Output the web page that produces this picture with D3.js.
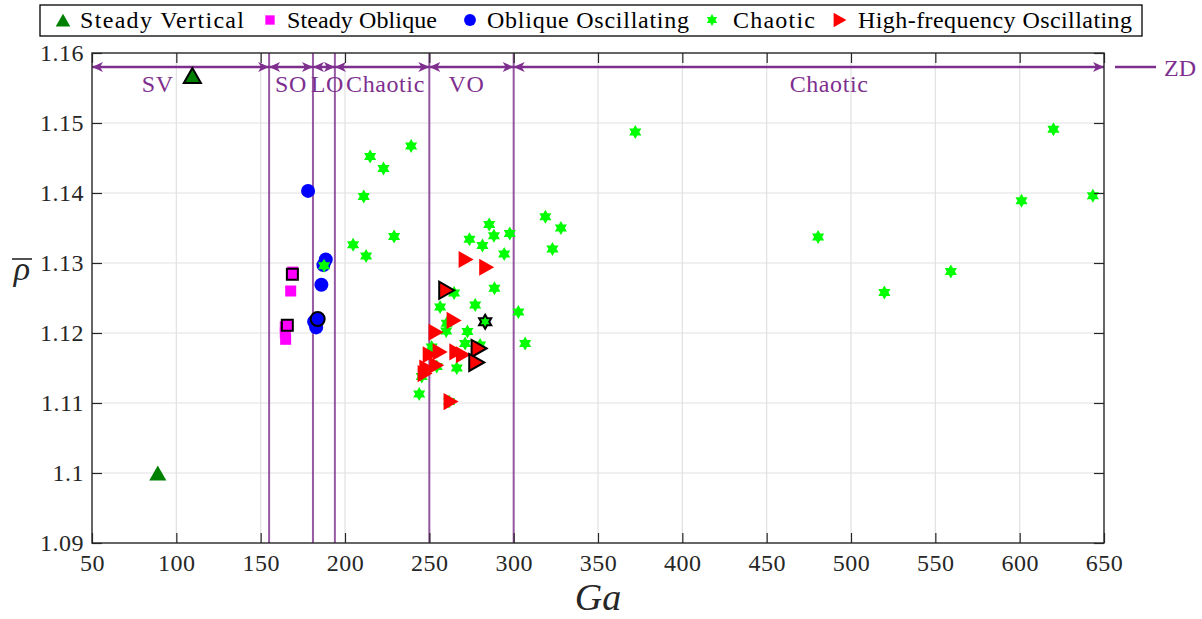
<!DOCTYPE html>
<html>
<head>
<meta charset="utf-8">
<script src="https://d3js.org/d3.v7.min.js"></script>
<style>
  body { margin: 0; background: #fff; font-family: 'Liberation Serif'; }
  svg, svg text { font-family: 'Liberation Serif' !important; }
</style>
</head>
<body>
<script>
// data: [Ga, rho, blackEdge]
var steadyVertical = [[89, 1.1000, 0], [109.5, 1.1568, 1]];
var steadyOblique = [[169, 1.1287, 0], [167.8, 1.1260, 0], [164.6, 1.1209, 0], [164.6, 1.1200, 0],
                     [164.8, 1.1191, 0], [168.8, 1.1284, 1], [165.8, 1.1211, 1]];
var obliqueOsc = [[178.1, 1.1403, 0], [188.6, 1.1305, 0], [187.2, 1.1297, 0], [186, 1.1269, 0],
                  [181.7, 1.1216, 0], [182.9, 1.1208, 0], [183.8, 1.1220, 1]];
var chaotic = [[239.2, 1.1467, 0], [214.9, 1.1452, 0], [222.8, 1.1435, 0], [211.1, 1.1395, 0],
               [204.8, 1.1326, 0], [212.5, 1.1310, 0], [229.1, 1.1338, 0], [187.6, 1.1296, 0],
               [285.5, 1.1355, 0], [273.8, 1.1334, 0], [281.5, 1.1325, 0], [288.3, 1.1339, 0],
               [297.7, 1.1342, 0], [294.4, 1.1313, 0], [318.8, 1.1366, 0], [328, 1.1350, 0],
               [323, 1.1320, 0], [288.6, 1.1264, 0], [302.8, 1.1230, 0], [264.7, 1.1257, 0],
               [256.4, 1.1237, 0], [277.2, 1.1240, 0], [260, 1.1203, 0], [272.6, 1.1202, 0],
               [271.2, 1.1185, 0], [280.1, 1.1183, 0], [306.8, 1.1185, 0], [266.3, 1.1150, 0],
               [244, 1.1113, 0], [254.4, 1.1152, 0], [251.4, 1.1180, 0], [245.5, 1.1138, 0],
               [261.7, 1.1102, 0], [260.3, 1.1214, 0],
               [372.1, 1.1487, 0], [480.5, 1.1337, 0], [519.8, 1.1258, 0], [559.2, 1.1288, 0],
               [601.1, 1.1389, 0], [620, 1.1491, 0], [643.4, 1.1396, 0], [283.1, 1.1216, 1]];
var highFreq = [[271.8, 1.1305, 0], [284, 1.1294, 0], [264.7, 1.1218, 0], [254, 1.1201, 0],
                [256.4, 1.1173, 0], [250.5, 1.1169, 0], [266.3, 1.1173, 0], [270.2, 1.1169, 0],
                [254.4, 1.1154, 0], [248.5, 1.1150, 0], [247.5, 1.1142, 0], [262.9, 1.1102, 0],
                [260.3, 1.1261, 1], [279.5, 1.1178, 1], [278.1, 1.1158, 1]];

var regionBounds = [50, 155, 181, 194, 250, 300, 650];
var regionLabels = ["SV", "SO", "LO", "Chaotic", "VO", "Chaotic"];
var regionLabelGa = [89, 168, 189.5, 224, 272, 487];
var arrowRho = 1.158;

var xTicks = d3.range(50, 651, 50);
var yTicks = [1.09, 1.1, 1.11, 1.12, 1.13, 1.14, 1.15, 1.16];

var seriesNames = ["Steady Vertical", "Steady Oblique", "Oblique Oscillating", "Chaotic", "High-frequency Oscillating"];

var W = 1202, H = 619;
var L = 92, R = 1104, T = 53, B = 543;
var purple = "#7E2F8E";

var svg = d3.select("body").append("svg").attr("width", W).attr("height", H)
  .attr("font-family", "Liberation Serif");

var x = d3.scaleLinear().domain([50, 650]).range([L, R]);
var y = d3.scaleLinear().domain([1.09, 1.16]).range([B, T]);

// marker paths
function triUp(s) { return "M0," + (-s * 0.5) + "L" + (s * 0.57) + "," + (s * 0.5) + "L" + (-s * 0.57) + "," + (s * 0.5) + "Z"; }
function triRight(s) { return "M" + (s * 0.5) + ",0L" + (-s * 0.5) + "," + (-s * 0.57) + "L" + (-s * 0.5) + "," + (s * 0.57) + "Z"; }
function square(s) { var h = s / 2; return "M" + -h + "," + -h + "H" + h + "V" + h + "H" + -h + "Z"; }
function circle(s) { var r = s / 2; return "M" + r + ",0A" + r + "," + r + " 0 1,1 " + -r + ",0A" + r + "," + r + " 0 1,1 " + r + ",0Z"; }
function hexagram(s) {
  var ro = s / 2, ri = ro / Math.sqrt(3), p = [];
  for (var i = 0; i < 12; i++) {
    var a = -Math.PI / 2 + i * Math.PI / 6, r = i % 2 ? ri : ro;
    p.push([r * Math.cos(a), r * Math.sin(a)]);
  }
  return "M" + p.join("L") + "Z";
}

// gridlines
var grid = svg.append("g").attr("stroke", "#e1e1e1").attr("stroke-width", 1.2);
grid.selectAll(".gx").data(xTicks.slice(1, -1)).join("line")
  .attr("x1", d => x(d)).attr("x2", d => x(d)).attr("y1", T).attr("y2", B);
grid.selectAll(".gy").data(yTicks.slice(1, -1)).join("line")
  .attr("y1", d => y(d)).attr("y2", d => y(d)).attr("x1", L).attr("x2", R);

// regime boundaries
svg.append("g").selectAll("line").data(regionBounds.slice(1, -1)).join("line")
  .attr("x1", d => x(d)).attr("x2", d => x(d)).attr("y1", T).attr("y2", B)
  .attr("stroke", purple).attr("stroke-opacity", 0.8).attr("stroke-width", 2);

// arrow heads
var defs = svg.append("defs");
defs.append("marker").attr("id", "ah").attr("viewBox", "-12 -6 12 12")
  .attr("refX", 0).attr("refY", 0).attr("markerWidth", 12).attr("markerHeight", 12)
  .attr("markerUnits", "userSpaceOnUse").attr("orient", "auto-start-reverse")
  .append("path").attr("d", "M0,0L-11,-5L-8,0L-11,5Z").attr("fill", purple);

var segs = d3.range(regionBounds.length - 1).map(i => [regionBounds[i], regionBounds[i + 1]]);
svg.append("g").selectAll("line").data(segs).join("line")
  .attr("x1", d => x(d[0])).attr("x2", d => x(d[1]))
  .attr("y1", y(arrowRho)).attr("y2", y(arrowRho))
  .attr("stroke", purple).attr("stroke-width", 2.5)
  .attr("marker-start", "url(#ah)").attr("marker-end", "url(#ah)");

svg.append("g").selectAll("text").data(regionLabels).join("text")
  .attr("x", (d, i) => x(regionLabelGa[i])).attr("y", 92)
  .attr("text-anchor", "middle").attr("fill", purple).attr("font-size", 24)
  .attr("letter-spacing", 0.6).text(d => d);

// ZD legend outside
svg.append("line").attr("x1", 1115).attr("x2", 1156).attr("y1", y(arrowRho)).attr("y2", y(arrowRho))
  .attr("stroke", purple).attr("stroke-width", 2.5);
svg.append("text").attr("x", 1164).attr("y", 76).attr("fill", purple).attr("font-size", 24).text("ZD");

// scatter series
var series = [
  {data: steadyVertical, shape: triUp, size: 15, fill: "#008000"},
  {data: steadyOblique, shape: square, size: 11, fill: "#ff00ff"},
  {data: obliqueOsc, shape: circle, size: 14, fill: "#0000ff"},
  {data: chaotic, shape: hexagram, size: 14, fill: "#00ff00"},
  {data: highFreq, shape: triRight, size: 15, fill: "#ff0000"}
];
var pts = svg.append("g");
series.forEach(function (s) {
  pts.append("g").selectAll("path").data(s.data.filter(d => !d[2])).join("path")
    .attr("d", s.shape(s.size)).attr("fill", s.fill)
    .attr("transform", d => "translate(" + x(d[0]) + "," + y(d[1]) + ")");
});
series.forEach(function (s) {
  pts.append("g").selectAll("path").data(s.data.filter(d => d[2])).join("path")
    .attr("d", s.shape(s.size)).attr("fill", s.fill).attr("stroke", "#000").attr("stroke-width", 2)
    .attr("transform", d => "translate(" + x(d[0]) + "," + y(d[1]) + ")");
});

// axes
var xAx = svg.append("g").attr("transform", "translate(0," + B + ")")
  .call(d3.axisBottom(x).tickValues(xTicks).tickSize(-10).tickSizeOuter(0).tickPadding(8));
var xAxTop = svg.append("g").attr("transform", "translate(0," + T + ")")
  .call(d3.axisTop(x).tickValues(xTicks).tickSize(-10).tickSizeOuter(0).tickFormat(""));
var yAx = svg.append("g").attr("transform", "translate(" + L + ",0)")
  .call(d3.axisLeft(y).tickValues(yTicks).tickSize(-10).tickSizeOuter(0).tickPadding(8).tickFormat(d3.format("")));
var yAxR = svg.append("g").attr("transform", "translate(" + R + ",0)")
  .call(d3.axisRight(y).tickValues(yTicks).tickSize(-10).tickSizeOuter(0).tickFormat(""));
[xAx, xAxTop, yAx, yAxR].forEach(function (g) {
  g.select(".domain").remove();
  g.attr("font-family", null).attr("font-size", null);
  g.selectAll(".tick line").attr("stroke", "#262626").attr("stroke-width", 1.2);
  g.selectAll(".tick text").attr("fill", "#262626").attr("font-size", 24).attr("letter-spacing", 0.5);
});
xAx.selectAll(".tick text").attr("dy", "0.85em");
svg.append("rect").attr("x", L).attr("y", T).attr("width", R - L).attr("height", B - T)
  .attr("fill", "none").attr("stroke", "#262626").attr("stroke-width", 1.4);

// axis labels
svg.append("text").attr("x", (L + R) / 2).attr("y", 610).attr("text-anchor", "middle")
  .attr("font-size", 38).attr("font-style", "italic").attr("fill", "#262626").text("Ga");
svg.append("text").attr("x", 22).attr("y", 280).attr("text-anchor", "middle")
  .attr("font-size", 34).attr("font-style", "italic").attr("fill", "#262626").text("ρ");
svg.append("line").attr("x1", 12).attr("x2", 32).attr("y1", 259).attr("y2", 259)
  .attr("stroke", "#262626").attr("stroke-width", 1.6);

// legend
var leg = svg.append("g");
leg.append("rect").attr("x", 40).attr("y", 5).attr("width", 1102).attr("height", 31)
  .attr("fill", "#fff").attr("stroke", "#000").attr("stroke-width", 1.3);
var legMarkX = [63, 270, 470, 712, 840];
var legTextX = [80, 287, 487, 733, 858];
var legTextW = [164, 150, 202, 82, 274];
series.forEach(function (s, i) {
  leg.append("path").attr("d", s.shape(s.size * 0.85)).attr("fill", s.fill)
    .attr("transform", "translate(" + legMarkX[i] + ",20)");
  leg.append("text").attr("x", legTextX[i]).attr("y", 28).attr("font-size", 24)
    .attr("textLength", legTextW[i]).attr("lengthAdjust", "spacing")
    .attr("fill", "#000").text(seriesNames[i]);
});
</script>
</body>
</html>
